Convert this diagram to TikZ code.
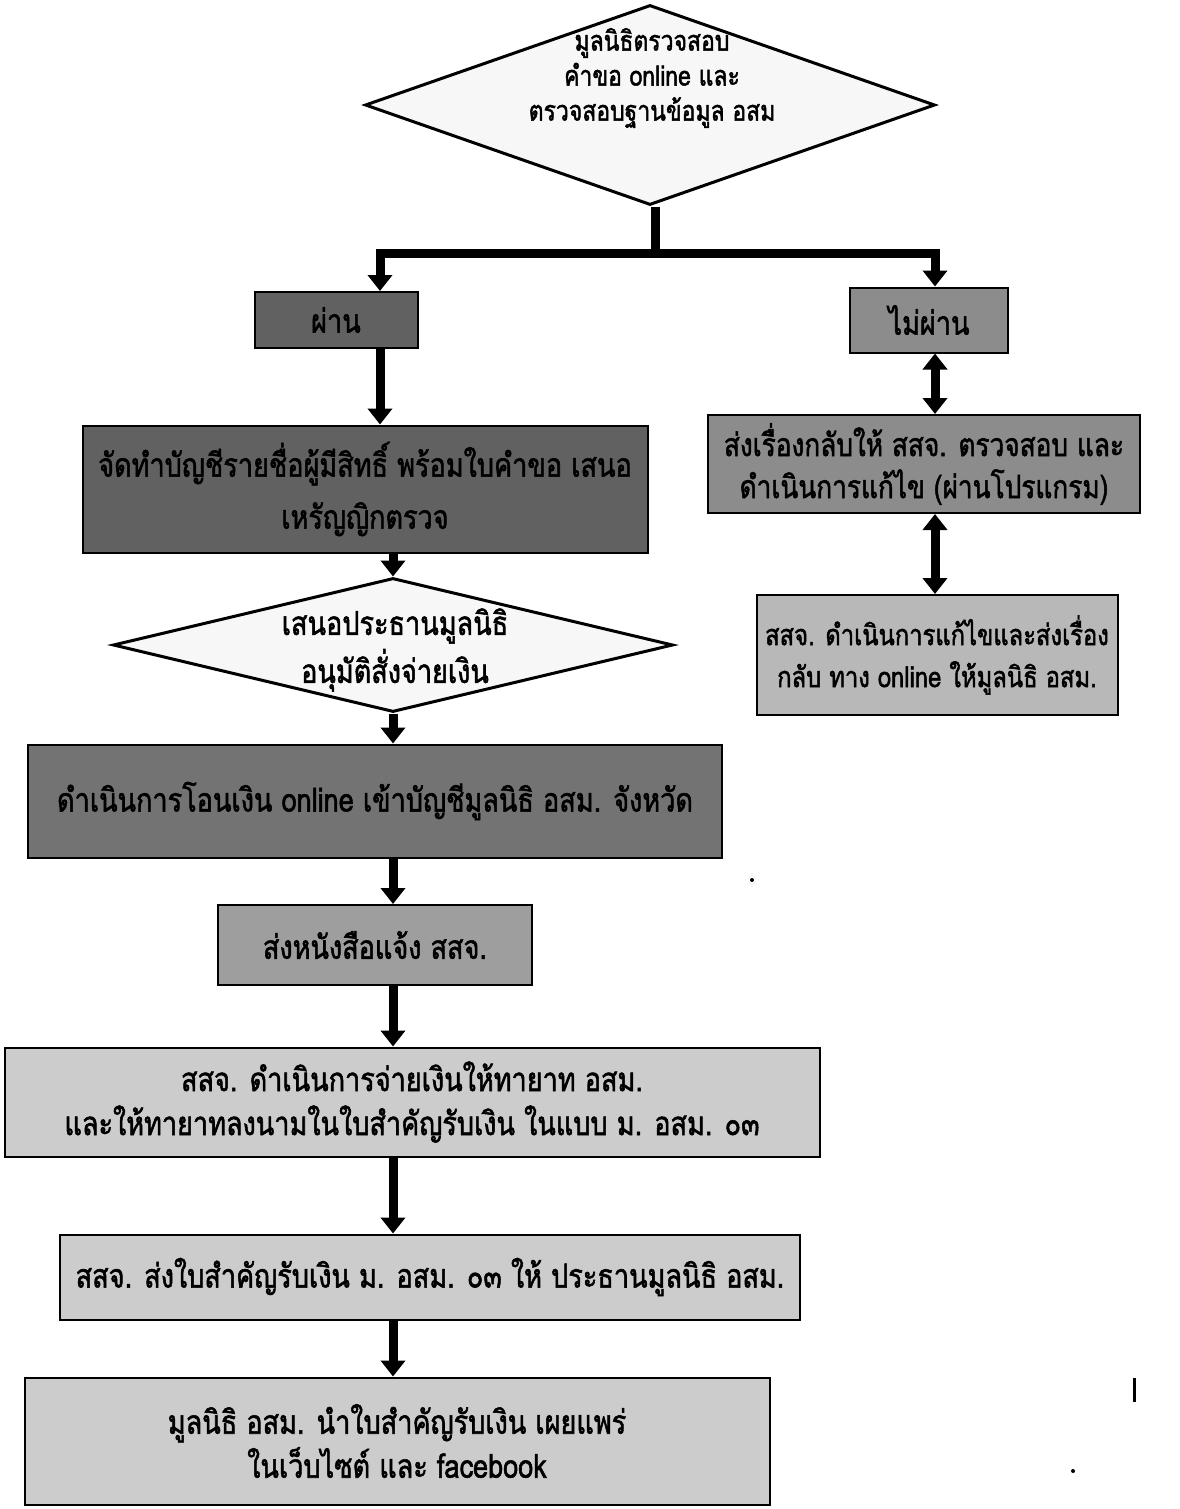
\documentclass[tikz,border=0pt]{standalone}
\usepackage{fontspec}
\usetikzlibrary{arrows.meta,shapes.geometric,calc}
\newfontfamily\thaifont[Script=Thai,FakeStretch=0.82,FakeBold=1.6]{Loma}
\definecolor{gA}{gray}{0.38}
\definecolor{gB}{gray}{0.45}
\definecolor{gC}{gray}{0.55}
\definecolor{gD}{gray}{0.62}
\definecolor{gE}{gray}{0.72}
\definecolor{gF}{gray}{0.80}
\definecolor{gG}{gray}{0.97}
\tikzset{
  txt/.style={font=\thaifont\fontsize{33}{44}\selectfont, align=center},
  box/.style={txt, draw=black, line width=2pt, inner sep=0pt},
  dia/.style={draw=black, line width=3pt, fill=gG, diamond, inner sep=0pt},
  conn/.style={line width=9pt, draw=black},
  arr/.style={line width=9pt, draw=black, -{Triangle[width=24pt,length=16pt]}},
  darr/.style={line width=9pt, draw=black, {Triangle[width=24pt,length=16pt]}-{Triangle[width=24pt,length=16pt]}},
  speck/.style={fill=black, draw=none}
}
\begin{document}
\begin{tikzpicture}[x=1pt,y=-1pt]
\useasboundingbox (0,0) rectangle (1179,1509);
\fill[white] (0,0) rectangle (1179,1509);

% decision 1
\node[dia, minimum width=570pt, minimum height=200pt] (d1) at (650,105) {};
\node[txt, font=\thaifont\fontsize{28}{35}\selectfont] (d1t) at (652,78)
  {มูลนิธิตรวจสอบ\\คำขอ online และ\\ตรวจสอบฐานข้อมูล อสม};

% pass / fail
\node[box, fill=gA, minimum width=163pt, minimum height=56pt] (pass) at (336,320) {ผ่าน};
\node[box, fill=gC, minimum width=158pt, minimum height=65pt] (fail) at (929,320) {ไม่ผ่าน};

% left column
\node[box, fill=gA, minimum width=565pt, minimum height=127pt,
  font=\thaifont\fontsize{33}{52}\selectfont] (list) at (365,489)
  {จัดทำบัญชีรายชื่อผู้มีสิทธิ์ พร้อมใบคำขอ เสนอ\\เหรัญญิกตรวจ};
\node[dia, minimum width=560pt, minimum height=134pt] (d2) at (393,645) {};
\node[txt, font=\thaifont\fontsize{33}{48}\selectfont] (d2t) at (395,650)
  {เสนอประธานมูลนิธิ\\อนุมัติสั่งจ่ายเงิน};
\node[box, fill=gB, minimum width=694pt, minimum height=113pt] (xfer) at (375,801)
  {ดำเนินการโอนเงิน online เข้าบัญชีมูลนิธิ อสม. จังหวัด};
\node[box, fill=gD, minimum width=314pt, minimum height=80pt] (letter) at (375,945)
  {ส่งหนังสือแจ้ง สสจ.};
\node[box, fill=gF, minimum width=815pt, minimum height=109pt] (pay) at (412,1102)
  {สสจ. ดำเนินการจ่ายเงินให้ทายาท อสม.\\และให้ทายาทลงนามในใบสำคัญรับเงิน ในแบบ ม. อสม. ๐๓};
\node[box, fill=gF, minimum width=740pt, minimum height=85pt] (send) at (430,1277)
  {สสจ. ส่งใบสำคัญรับเงิน ม. อสม. ๐๓ ให้ ประธานมูลนิธิ อสม.};
\node[box, fill=gF, minimum width=745pt, minimum height=127pt] (pub) at (397,1441)
  {มูลนิธิ อสม. นำใบสำคัญรับเงิน เผยแพร่\\ในเว็บไซต์ และ facebook};

% right column
\node[box, fill=gC, minimum width=432pt, minimum height=98pt,
  font=\thaifont\fontsize{32}{42}\selectfont] (back) at (924,464)
  {ส่งเรื่องกลับให้ สสจ. ตรวจสอบ และ\\ดำเนินการแก้ไข (ผ่านโปรแกรม)};
\node[box, fill=gE, minimum width=361pt, minimum height=120pt,
  font=\thaifont\fontsize{29}{42}\selectfont] (fix) at (937,655)
  {สสจ. ดำเนินการแก้ไขและส่งเรื่อง\\กลับ ทาง online ให้มูลนิธิ อสม.};

% connectors
\coordinate (split) at (655,253);
\coordinate (lx) at (380,0);
\coordinate (rx) at (935,0);
\coordinate (cx) at (393,0);
\draw[conn] (d1.south -| split) -- (split);
\draw[arr] (split) -| (lx |- pass.north);
\draw[arr] (split) -| (rx |- fail.north);
\draw[arr] (lx |- pass.south) -- (lx |- list.north);
\draw[arr] (cx |- list.south) -- (d2.north);
\draw[arr] (d2.south) -- (cx |- xfer.north);
\draw[arr] (cx |- xfer.south) -- (cx |- letter.north);
\draw[arr] (cx |- letter.south) -- (cx |- pay.north);
\draw[arr] (cx |- pay.south) -- (cx |- send.north);
\draw[arr] (cx |- send.south) -- (cx |- pub.north);
\draw[darr] (rx |- fail.south) -- (rx |- back.north);
\draw[darr] (rx |- back.south) -- (rx |- fix.north);

% scan specks
\fill[speck] (752,880) circle (2pt);
\fill[speck] (1133,1378) rectangle (1136,1402);
\fill[speck] (1073,1471) circle (2pt);
\end{tikzpicture}
\end{document}
